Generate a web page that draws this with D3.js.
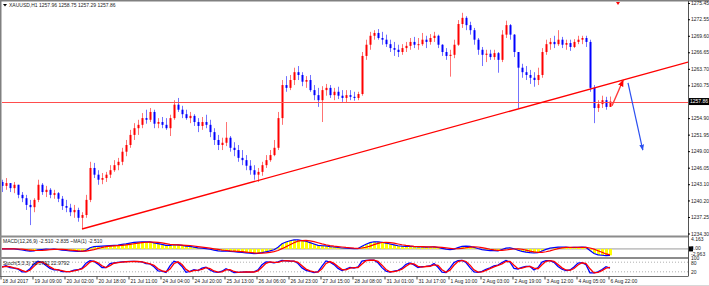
<!DOCTYPE html>
<html>
<head>
<meta charset="utf-8">
<script src="https://cdn.jsdelivr.net/npm/d3@7"></script>
<style>
body { margin: 0; background: #fff; }
svg { display: block; font-family: "Liberation Sans", Arial, sans-serif; }
</style>
</head>
<body>
<script>
// XAUUSD H1 chart, each bar below = 2 hours
var firstOpen = 1243.5;
var closes = [1242.8,1243.3,1242.4,1243.0,1241.2,1240.6,1239.4,1239.0,1240.3,1243.0,
  1241.7,1242.1,1241.2,1241.5,1240.5,1239.2,1238.9,1238.1,1238.5,1237.1,
  1237.6,1240.3,1246.0,1244.8,1243.9,1244.2,1244.8,1245.6,1246.5,1247.1,
  1248.9,1250.1,1251.9,1253.1,1253.7,1254.9,1254.6,1256.0,1253.9,1254.2,
  1253.7,1253.1,1254.9,1257.3,1256.4,1255.6,1254.9,1255.3,1254.2,1253.5,
  1254.2,1253.7,1252.4,1251.0,1250.1,1250.5,1251.4,1249.6,1249.2,1247.8,
  1247.4,1246.4,1245.6,1244.8,1245.3,1246.5,1247.4,1248.3,1249.6,1254.9,
  1260.8,1260.3,1261.7,1263.1,1262.6,1261.4,1261.7,1259.9,1259.0,1258.1,
  1259.9,1260.3,1259.0,1259.6,1258.9,1258.5,1259.0,1258.7,1258.5,1259.2,
  1266.0,1268.0,1269.6,1270.1,1269.2,1268.9,1268.1,1267.4,1267.1,1266.7,
  1267.4,1267.8,1268.5,1268.0,1268.1,1268.9,1268.5,1269.2,1269.6,1268.0,
  1266.7,1266.0,1266.2,1268.0,1271.7,1272.8,1271.5,1270.6,1268.9,1267.1,
  1266.2,1266.4,1265.8,1266.5,1265.3,1269.8,1271.5,1269.8,1266.7,1263.9,
  1263.1,1262.6,1262.1,1261.7,1262.6,1266.7,1268.1,1268.5,1268.1,1268.9,
  1268.0,1268.3,1267.6,1268.5,1268.9,1269.2,1268.5,1260.3,1256.7,1257.4,
  1258.1,1256.9,1257.86];
var highs = [1243.9,1244.2,1243.3,1243.5,1243.0,1241.7,1241.2,1240.3,1240.6,1243.9,
  1243.3,1242.8,1242.4,1242.1,1241.7,1241.0,1240.3,1239.6,1239.4,1238.9,
  1238.1,1241.2,1247.1,1246.9,1245.6,1245.1,1245.3,1246.5,1247.4,1247.8,
  1249.6,1251.0,1252.8,1254.0,1254.6,1255.8,1256.4,1256.7,1256.4,1254.9,
  1255.1,1254.9,1255.5,1258.1,1258.5,1257.1,1256.4,1256.0,1255.6,1254.9,
  1255.1,1255.5,1254.6,1253.1,1251.9,1251.4,1254.2,1251.7,1250.6,1250.1,
  1249.2,1248.3,1247.4,1246.5,1246.0,1247.1,1248.3,1249.2,1251.0,1256.0,
  1261.7,1262.4,1262.6,1263.9,1264.2,1263.1,1262.4,1262.6,1260.8,1260.3,
  1260.6,1261.0,1260.8,1260.3,1260.5,1259.9,1259.9,1259.9,1259.6,1259.6,
  1266.7,1268.9,1270.3,1270.6,1270.8,1270.3,1269.8,1268.9,1268.5,1268.0,
  1268.1,1268.5,1269.2,1269.4,1269.2,1270.1,1269.6,1269.9,1270.3,1269.8,
  1268.1,1267.4,1267.1,1268.9,1272.4,1273.7,1273.1,1272.1,1271.0,1269.2,
  1267.6,1267.1,1267.1,1267.1,1266.7,1270.6,1272.3,1271.7,1269.9,1266.2,
  1264.6,1264.2,1263.5,1263.1,1263.9,1267.4,1268.9,1269.2,1269.6,1270.6,
  1269.4,1268.9,1268.9,1269.0,1269.6,1269.6,1269.6,1268.9,1260.8,1258.1,
  1258.9,1258.7,1258.75];
var lows = [1241.7,1242.1,1241.7,1241.5,1240.6,1239.9,1238.5,1235.8,1238.1,1239.9,
  1241.2,1240.8,1240.6,1240.5,1239.9,1238.5,1238.1,1237.4,1237.1,1236.4,
  1235.1,1237.1,1239.9,1244.2,1243.0,1243.1,1243.5,1244.2,1245.3,1245.6,
  1246.5,1248.1,1249.6,1251.0,1251.9,1253.1,1253.9,1254.2,1253.1,1253.1,
  1253.1,1252.8,1251.7,1254.6,1256.0,1254.9,1254.6,1254.0,1253.5,1252.4,
  1252.8,1253.1,1251.5,1250.1,1249.2,1249.2,1249.9,1248.9,1248.1,1247.1,
  1246.5,1245.6,1244.8,1243.9,1243.5,1244.6,1246.0,1247.1,1248.1,1249.2,
  1253.7,1259.6,1259.9,1260.8,1261.7,1260.6,1260.3,1259.6,1258.1,1256.9,
  1254.2,1258.9,1258.5,1258.1,1258.3,1257.8,1257.6,1258.1,1258.0,1258.1,
  1258.9,1265.3,1267.1,1268.9,1268.9,1268.0,1267.6,1266.7,1266.0,1265.8,
  1266.2,1266.7,1267.1,1267.4,1267.1,1267.8,1267.4,1268.0,1268.5,1267.4,
  1266.0,1265.3,1262.3,1265.6,1267.8,1271.0,1270.6,1269.8,1268.0,1266.2,
  1264.2,1264.9,1265.3,1265.3,1263.0,1264.9,1269.2,1268.9,1265.8,1256.7,
  1262.1,1261.7,1261.0,1260.5,1260.8,1262.1,1266.2,1267.1,1267.4,1267.8,
  1267.4,1267.1,1266.9,1267.4,1268.1,1268.1,1267.6,1259.6,1254.0,1256.0,
  1256.7,1256.4,1257.29];

var priceTicks = [1275.45,1272.55,1269.60,1266.65,1263.70,1260.75,1254.90,1251.95,1249.00,1246.05,1243.10,1240.20,1237.25,1234.30];
var lastPrice = 1257.86;
var timeLabels = ["18 Jul 2017","19 Jul 09:00","20 Jul 02:00","20 Jul 18:00","21 Jul 11:00","24 Jul 04:00","24 Jul 20:00",
  "25 Jul 13:00","26 Jul 06:00","26 Jul 23:00","27 Jul 15:00","28 Jul 08:00","31 Jul 01:00","31 Jul 17:00",
  "1 Aug 10:00","2 Aug 03:00","2 Aug 19:00","3 Aug 12:00","4 Aug 05:00","6 Aug 22:00"];
var labelBars = [0,8,16,24,32,40,48,56,64,72,80,88,96,104,112,120,128,136,144,152];

// drawn objects: [bar, price]
var trendLine = [[20, 1235.1], [171.5, 1264.9]];
var redArrow = [[152.5, 1257.1], [155.3, 1261.7]];
var blueArrow = [[156.5, 1261.2], [160.2, 1249.2]];

var macdRange = [-2.963, 4.163];
var stochLevels = [80, 20];
var titleMain = "XAUUSD,H1  1257.96 1258.75 1257.29 1257.86";
var titleMacd = "MACD(12,26,9) -2.510 -2.835  ~MA(1) -2.510";
var titleStoch = "Stoch(5,3,3) 22.0792 22.9792";

var width = 709, height = 286, axisX = 688;
var up = "#ff0000", down = "#0000ff";

var svg = d3.select('body').append('svg').attr('width', width).attr('height', height);
var defs = svg.append('defs');
defs.append('clipPath').attr('id', 'cMain').append('rect').attr('x', 2).attr('y', 2).attr('width', axisX - 2).attr('height', 233);
defs.append('clipPath').attr('id', 'cMacd').append('rect').attr('x', 2).attr('y', 238).attr('width', axisX - 2).attr('height', 19);
defs.append('clipPath').attr('id', 'cSto').append('rect').attr('x', 2).attr('y', 259).attr('width', axisX - 2).attr('height', 17);
[['aRed', up], ['aBlue', '#2b4ff0']].forEach(function(m) {
  defs.append('marker').attr('id', m[0]).attr('viewBox', '0 0 10 10').attr('refX', 9).attr('refY', 5)
    .attr('markerWidth', 5).attr('markerHeight', 5).attr('orient', 'auto')
    .append('path').attr('d', 'M0,1L10,5L0,9z').attr('fill', m[1]);
});

var x = d3.scaleLinear().domain([0, closes.length - 1]).range([2, 610]);
var y = d3.scaleLinear().domain([1234.30, 1275.45]).range([233.5, 3]);
var yM = d3.scaleLinear().domain(macdRange).range([256, 239]);
var yS = d3.scaleLinear().domain([0, 100]).range([275, 259]);

var bars = closes.map(function(c, i) {
  return { i: i, o: i ? closes[i - 1] : firstOpen, h: highs[i], l: lows[i], c: c };
});

// ---- main panel
var gm = svg.append('g').attr('clip-path', 'url(#cMain)');
gm.selectAll('line.wick').data(bars).join('line').attr('class', 'wick')
  .attr('x1', d => x(d.i) + 0.5).attr('x2', d => x(d.i) + 0.5)
  .attr('y1', d => y(Math.max(d.h, d.o, d.c))).attr('y2', d => y(Math.min(d.l, d.o, d.c)))
  .attr('stroke', d => d.c >= d.o ? up : down).attr('stroke-opacity', 0.55);
gm.selectAll('rect.body').data(bars).join('rect').attr('class', 'body')
  .attr('x', d => x(d.i) - 0.5).attr('width', 2)
  .attr('y', d => y(Math.max(d.o, d.c)))
  .attr('height', d => Math.max(1, Math.abs(y(d.o) - y(d.c))))
  .attr('fill', d => d.c >= d.o ? up : down);
// current price line sits over the bars, as in the terminal
gm.append('line').attr('x1', 0).attr('x2', axisX).attr('y1', Math.round(y(lastPrice)) + 0.5).attr('y2', Math.round(y(lastPrice)) + 0.5)
  .attr('stroke', '#ff4d4d').attr('stroke-width', 1);

var seg = d3.line().x(d => x(d[0])).y(d => y(d[1]));
gm.append('path').attr('d', seg(trendLine)).attr('stroke', up).attr('stroke-width', 1.4).attr('fill', 'none');
gm.append('path').attr('d', seg(redArrow)).attr('stroke', '#ff3a3a').attr('stroke-width', 1.4).attr('fill', 'none').attr('marker-end', 'url(#aRed)');
gm.append('path').attr('d', seg(blueArrow)).attr('stroke', '#2b4ff0').attr('stroke-width', 1.2).attr('fill', 'none').attr('marker-end', 'url(#aBlue)');
gm.append('path').attr('d', 'M' + (x(154) - 2) + ',2L' + (x(154) + 2) + ',2L' + x(154) + ',5z').attr('fill', up);

// ---- MACD (periods given in hours, bars are 2h)
function ema(a, n) { var k = 2 / (n + 1), o = []; a.forEach((v, i) => o.push(i ? k * v + (1 - k) * o[i - 1] : v)); return o; }
function sma(a, n) { return a.map((v, i) => d3.mean(a.slice(Math.max(0, i - n + 1), i + 1))); }
var f = ema(closes, 12 / 2), s = ema(closes, 26 / 2);
var macd = f.map((v, i) => v - s[i]);
var signal = sma(macd, 5);
var gM = svg.append('g').attr('clip-path', 'url(#cMacd)');
gM.append('line').attr('x1', 0).attr('x2', axisX).attr('y1', yM(0)).attr('y2', yM(0)).attr('stroke', '#9a9a9a');
gM.selectAll('rect').data(macd).join('rect')
  .attr('x', (d, i) => x(i) - 1).attr('width', 3)
  .attr('y', d => Math.min(yM(0), yM(d))).attr('height', d => Math.abs(yM(d) - yM(0)))
  .attr('fill', '#ffff00');
var lineM = d3.line().x((d, i) => x(i)).y(d => yM(d));
gM.append('path').attr('d', lineM(macd)).attr('stroke', down).attr('stroke-width', 1.2).attr('fill', 'none');
gM.append('path').attr('d', lineM(signal)).attr('stroke', up).attr('stroke-width', 1.2).attr('fill', 'none');

// ---- Stochastic
var kN = 3, slow = 2;
var raw = closes.map(function(c, i) {
  var num = 0, den = 0;
  for (var j = Math.max(0, i - slow + 1); j <= i; j++) {
    var a = Math.max(0, j - kN + 1);
    var ll = d3.min(lows.slice(a, j + 1)), hh = d3.max(highs.slice(a, j + 1));
    num += closes[j] - ll; den += hh - ll;
  }
  return den ? 100 * num / den : 50;
});
var stoD = sma(raw, 2);
var gS = svg.append('g').attr('clip-path', 'url(#cSto)');
gS.selectAll('line.lv').data(stochLevels).join('line').attr('class', 'lv')
  .attr('x1', 0).attr('x2', axisX).attr('y1', d => yS(d)).attr('y2', d => yS(d))
  .attr('stroke', '#b0b0b0').attr('stroke-dasharray', '1,2');
var lineS = d3.line().x((d, i) => x(i)).y(d => yS(d));
gS.append('path').attr('d', lineS(raw)).attr('stroke', down).attr('stroke-width', 1.3).attr('fill', 'none');
gS.append('path').attr('d', lineS(stoD)).attr('stroke', up).attr('stroke-width', 1.3).attr('fill', 'none');

// ---- frames
svg.append('rect').attr('x', 0).attr('y', 0).attr('width', width).attr('height', 1.5).attr('fill', '#808080');
svg.append('rect').attr('x', 0).attr('y', 0).attr('width', 1.5).attr('height', 277).attr('fill', '#808080');
[235.5, 257].forEach(function(v) {
  svg.append('rect').attr('x', 0).attr('y', v).attr('width', axisX).attr('height', 2).attr('fill', '#8c8c8c');
});
svg.append('line').attr('x1', 0).attr('x2', axisX).attr('y1', 276.5).attr('y2', 276.5).attr('stroke', '#6e6e6e');
svg.append('line').attr('x1', 0).attr('x2', width).attr('y1', 285.5).attr('y2', 285.5).attr('stroke', '#d8d8d8');

// ---- axes
var fs = 5;
var ay = svg.append('g').attr('transform', 'translate(' + axisX + ',0)')
  .call(d3.axisRight(y).tickValues(priceTicks).tickSize(2).tickFormat(d3.format('.2f')));
ay.select('.domain').attr('d', 'M0.5,1V276.5').attr('stroke', '#555');
ay.selectAll('text').attr('font-size', fs).attr('fill', '#222').attr('x', 3);

svg.append('rect').attr('x', axisX + 1).attr('y', y(lastPrice) - 3.5).attr('width', 20).attr('height', 7).attr('fill', '#000');
svg.append('text').attr('x', axisX + 2).attr('y', y(lastPrice) + 1.8).attr('font-size', fs).attr('fill', '#fff').text(lastPrice.toFixed(2));

var sideLabels = [[yM(macdRange[1]) + 2, macdRange[1].toFixed(3)], [yM(0) + 1.5, '0.00'], [yM(macdRange[0]) - 0.2, macdRange[0].toFixed(3)],
  [260.4, '100'], [265.2, '80'], [yS(20) + 1.8, '20']];
svg.append('rect').attr('x', axisX + 1).attr('y', yM(0) - 2.5).attr('width', 4).attr('height', 5).attr('fill', '#000');
svg.selectAll('text.side').data(sideLabels).join('text').attr('class', 'side')
  .attr('x', axisX + 3).attr('y', d => d[0]).attr('font-size', fs).attr('fill', '#222').text(d => d[1]);

var ax = svg.append('g').attr('transform', 'translate(0,276.5)')
  .call(d3.axisBottom(x).tickValues(labelBars).tickSize(3).tickFormat((d, i) => timeLabels[i]));
ax.select('.domain').remove();
ax.selectAll('.tick line').attr('transform', 'translate(-1.5,0)').attr('stroke', '#444');
ax.selectAll('text').attr('font-size', fs).attr('fill', '#222').attr('text-anchor', 'start').attr('y', 3).attr('dy', '0.71em');

// ---- titles
svg.append('path').attr('d', 'M3,4H7L5,6.5z').attr('fill', '#000');
svg.append('text').attr('x', 9).attr('y', 7).attr('font-size', fs).attr('fill', '#222').text(titleMain);
svg.append('text').attr('x', 3).attr('y', 243).attr('font-size', fs).attr('fill', '#222').text(titleMacd);
svg.append('text').attr('x', 3).attr('y', 264.5).attr('font-size', fs).attr('fill', '#222').text(titleStoch);
</script>
</body>
</html>
